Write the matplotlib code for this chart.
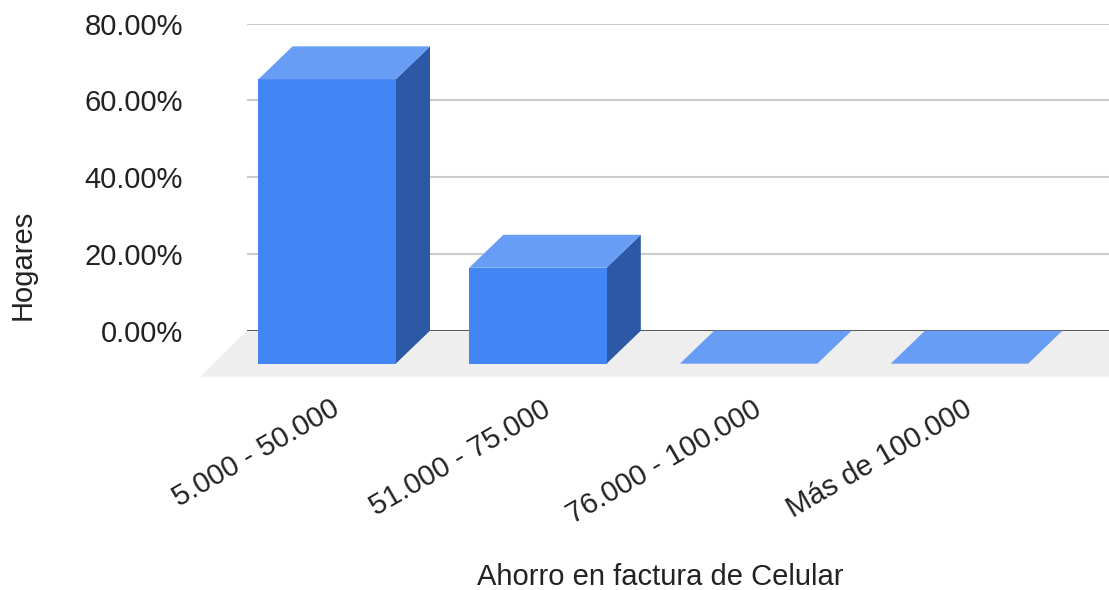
import matplotlib
matplotlib.use("Agg")
import matplotlib.pyplot as plt
from matplotlib.patches import Polygon
from matplotlib.transforms import ScaledTranslation
from matplotlib.ticker import FuncFormatter

plt.rcParams['font.family'] = ['Liberation Sans', 'DejaVu Sans']

categories = ["5.000 - 50.000", "51.000 - 75.000", "76.000 - 100.000", "Más de 100.000"]
values = [74.1, 25.0, 0.0, 0.0]
y_ticks = [0, 20, 40, 60, 80]
x_title = "Ahorro en factura de Celular"
y_title = "Hogares"

FRONT = "#4285F4"
TOP = "#689DF6"
SIDE = "#2C58A5"
FLOOR = "#EEEEEE"
GRID = "#CCCCCC"
TEXT = "#222222"

W, H = 1109, 590
fig = plt.figure(figsize=(W / 100, H / 100), dpi=100)

# axes = back wall area (pixels)
left_px, right_px = 247, 1109
zero_px, top_px = 330.7, 23.7
ax = fig.add_axes([left_px / W, (H - zero_px) / H, (right_px - left_px) / W, (zero_px - top_px) / H])

unit_px = 210.8
x0_px = 327.0
ax.set_xlim((left_px - x0_px) / unit_px, (right_px - x0_px) / unit_px)
ax.set_ylim(0, 80)

half_w = 68.7 / unit_px
dx = 34.3 / unit_px
dy = 8.6
floor_dx = 47 / unit_px
floor_dy = 12.0

for s in ax.spines.values():
    s.set_visible(False)

ax.set_yticks(y_ticks)
ax.yaxis.set_major_formatter(FuncFormatter(lambda v, p: f"{v:.2f}%"))
ax.yaxis.grid(True, color=GRID, lw=1.5, zorder=0)
ax.set_axisbelow(True)
ax.axhline(0, color="#333333", lw=1.8, zorder=1)

# floor
xl, xr = ax.get_xlim()
floor = Polygon([(xl, 0), (xr + floor_dx, 0), (xr, -floor_dy), (xl - floor_dx, -floor_dy)],
                closed=True, facecolor=FLOOR, edgecolor='none', zorder=0.5, clip_on=False)
ax.add_patch(floor)

for i, v in enumerate(values):
    x1, x2 = i - half_w, i + half_w
    front = Polygon([(x1, -dy), (x2, -dy), (x2, v - dy), (x1, v - dy)], closed=True,
                    facecolor=FRONT, edgecolor='none', zorder=3, clip_on=False)
    top = Polygon([(x1, v - dy), (x2, v - dy), (x2 + dx, v), (x1 + dx, v)], closed=True,
                  facecolor=TOP, edgecolor='none', zorder=3, clip_on=False)
    side = Polygon([(x2, -dy), (x2 + dx, 0), (x2 + dx, v), (x2, v - dy)], closed=True,
                   facecolor=SIDE, edgecolor='none', zorder=3, clip_on=False)
    for p in (side, front, top):
        ax.add_patch(p)

ax.tick_params(axis='y', length=0, pad=64 * 0.72, labelsize=21, labelcolor=TEXT)
ax.tick_params(axis='x', length=0, pad=64 * 0.72, labelsize=21, labelcolor=TEXT)
ax.set_xticks(range(len(categories)))
ax.set_xticklabels(categories, rotation=30, ha='right', va='top', rotation_mode='anchor')
offset = ScaledTranslation(3 / 100, 0, fig.dpi_scale_trans)
for lab in ax.get_xticklabels():
    lab.set_transform(lab.get_transform() + offset)

ax.set_xlabel(x_title, fontsize=21, color=TEXT, va='center')
ax.xaxis.set_label_coords((660 - left_px) / (right_px - left_px), (zero_px - 577) / (zero_px - top_px))
ax.set_ylabel(y_title, fontsize=21, color=TEXT, va='center')
ax.yaxis.set_label_coords((23 - left_px) / (right_px - left_px), (zero_px - 265) / (zero_px - top_px))

fig.savefig("out.png", dpi=100)
